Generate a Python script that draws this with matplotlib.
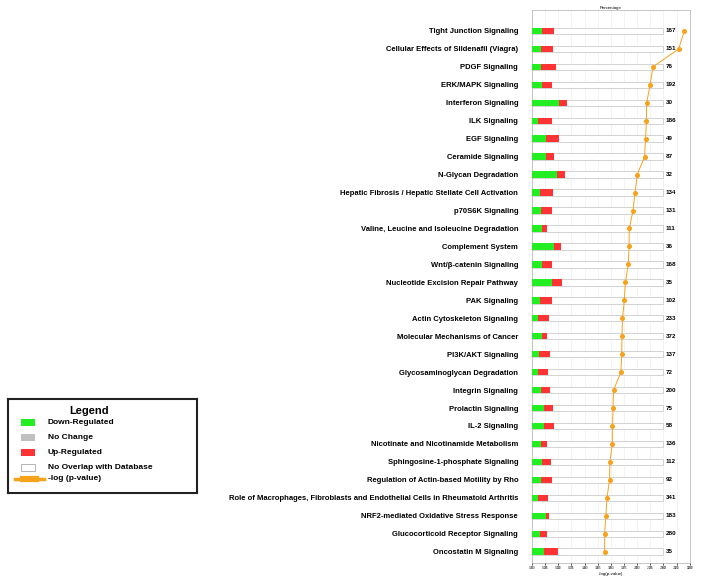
import numpy as np
import matplotlib.pyplot as plt
from matplotlib.patches import Rectangle
from matplotlib.lines import Line2D

plt.rcParams['font.family'] = ['Liberation Sans', 'DejaVu Sans']

pathways = [
    "Tight Junction Signaling",
    "Cellular Effects of Sildenafil (Viagra)",
    "PDGF Signaling",
    "ERK/MAPK Signaling",
    "Interferon Signaling",
    "ILK Signaling",
    "EGF Signaling",
    "Ceramide Signaling",
    "N-Glycan Degradation",
    "Hepatic Fibrosis / Hepatic Stellate Cell Activation",
    "p70S6K Signaling",
    "Valine, Leucine and Isoleucine Degradation",
    "Complement System",
    "Wnt/β-catenin Signaling",
    "Nucleotide Excision Repair Pathway",
    "PAK Signaling",
    "Actin Cytoskeleton Signaling",
    "Molecular Mechanisms of Cancer",
    "PI3K/AKT Signaling",
    "Glycosaminoglycan Degradation",
    "Integrin Signaling",
    "Prolactin Signaling",
    "IL-2 Signaling",
    "Nicotinate and Nicotinamide Metabolism",
    "Sphingosine-1-phosphate Signaling",
    "Regulation of Actin-based Motility by Rho",
    "Role of Macrophages, Fibroblasts and Endothelial Cells in Rheumatoid Arthritis",
    "NRF2-mediated Oxidative Stress Response",
    "Glucocorticoid Receptor Signaling",
    "Oncostatin M Signaling",
]

# percentage of pathway molecules down / up regulated
down_pct = [7.9, 6.9, 6.9, 7.9, 20.4, 4.8, 10.4, 10.4, 18.8, 6.4,
            6.6, 7.4, 17.0, 7.4, 14.8, 6.4, 4.3, 7.4, 5.6, 4.3,
            7.1, 9.4, 8.9, 7.1, 7.9, 6.9, 4.8, 10.4, 5.9, 8.9]
up_pct = [8.9, 8.9, 11.4, 6.9, 6.3, 10.2, 10.0, 6.6, 5.9, 9.4,
          8.7, 4.1, 5.1, 7.4, 7.8, 8.4, 8.4, 4.3, 8.1, 8.2,
          6.4, 6.6, 8.1, 4.6, 6.3, 8.1, 7.2, 2.6, 5.8, 11.2]
total_genes = [167, 151, 76, 192, 30, 186, 49, 87, 32, 134,
               131, 111, 36, 168, 35, 102, 233, 372, 137, 72,
               200, 75, 58, 136, 112, 92, 341, 183, 280, 35]
neg_log_p = [2.895, 2.79, 2.30, 2.245, 2.18, 2.175, 2.16, 2.14, 2.00, 1.96,
             1.92, 1.85, 1.845, 1.83, 1.775, 1.755, 1.72, 1.71, 1.705, 1.69,
             1.55, 1.54, 1.53, 1.527, 1.48, 1.475, 1.425, 1.405, 1.38, 1.38]

green = '#22ee22'
red = '#ff3333'
orange = '#f7a21b'

fig = plt.figure(figsize=(7.01, 5.85), dpi=100)
ax = fig.add_axes([0.759, 0.0376, 0.225, 0.9454])

y = np.arange(len(pathways))
h = 0.36
ax.barh(y, [100] * len(y), height=h, color='white', edgecolor='#cccccc', linewidth=0.6, zorder=2)
ax.barh(y, down_pct, height=h, color=green, zorder=3)
ax.barh(y, up_pct, left=down_pct, height=h, color=red, zorder=3)
for yi, n in zip(y, total_genes):
    ax.text(101.5, yi, str(n), fontsize=4.5, fontweight='bold', va='center', ha='left')

ax.set_xlim(0, 120)
ax.set_ylim(len(y) - 1 + 0.63, -1.17)
ax.set_yticks(y)
ax.set_yticklabels(pathways, fontsize=5.5, fontweight='bold')
ax.tick_params(axis='y', length=0, pad=10)
ax.xaxis.set_ticks_position('top')
ax.xaxis.set_label_position('top')
ax.set_xticks(np.arange(0, 121, 10))
ax.tick_params(axis='x', labelsize=2.4, length=1.5, width=0.4, pad=0.8, colors='#333333')
ax.set_xlabel('Percentage', fontsize=3.2, labelpad=1)
ax.grid(axis='x', color='#eeeeee', linewidth=0.5, zorder=0)
ax.set_axisbelow(True)
for s in ax.spines.values():
    s.set_color('#bbbbbb')
    s.set_linewidth(0.6)

ax2 = ax.twiny()
ax2.plot(neg_log_p, y, color=orange, linewidth=0.7, marker='o', markersize=2.6, zorder=5)
ax2.set_xlim(0, 3)
ax2.set_xticks(np.arange(0, 3.01, 0.25))
ax2.set_xticklabels([f"{v:.2f}" for v in np.arange(0, 3.01, 0.25)])
ax2.xaxis.set_ticks_position('bottom')
ax2.xaxis.set_label_position('bottom')
ax2.tick_params(axis='x', labelsize=2.4, length=1.5, width=0.4, pad=0.8, colors='#333333')
ax2.set_xlabel('-log(p-value)', fontsize=3.2, labelpad=1)
for s in ax2.spines.values():
    s.set_visible(False)

# legend box
lg = fig.add_axes([0.0114, 0.157, 0.27, 0.161])
lg.set_xlim(0, 1)
lg.set_ylim(0, 1)
lg.set_xticks([])
lg.set_yticks([])
for s in lg.spines.values():
    s.set_color('#222222')
    s.set_linewidth(1.5)
lg.text(0.43, 0.87, 'Legend', fontsize=8, fontweight='bold', ha='center', va='center')
entries = [("Down-Regulated", green, 'none'),
           ("No Change", '#c0c0c0', 'none'),
           ("Up-Regulated", red, 'none'),
           ("No Overlap with Database", 'white', '#999999')]
rows = [0.75, 0.59, 0.43, 0.27]
for (lab, fc, ec), ry in zip(entries, rows):
    lg.add_patch(Rectangle((0.07, ry - 0.035), 0.075, 0.07, facecolor=fc, edgecolor=ec, linewidth=0.5))
    lg.text(0.21, ry, lab, fontsize=6, fontweight='bold', va='center')
lg.add_line(Line2D([0.035, 0.19], [0.155, 0.155], color=orange, linewidth=2.5))
lg.add_line(Line2D([0.08, 0.15], [0.155, 0.155], color=orange, linewidth=4.5))
lg.text(0.21, 0.16, '-log (p-value)', fontsize=6, fontweight='bold', va='center')

fig.savefig('out.png', dpi=100)
